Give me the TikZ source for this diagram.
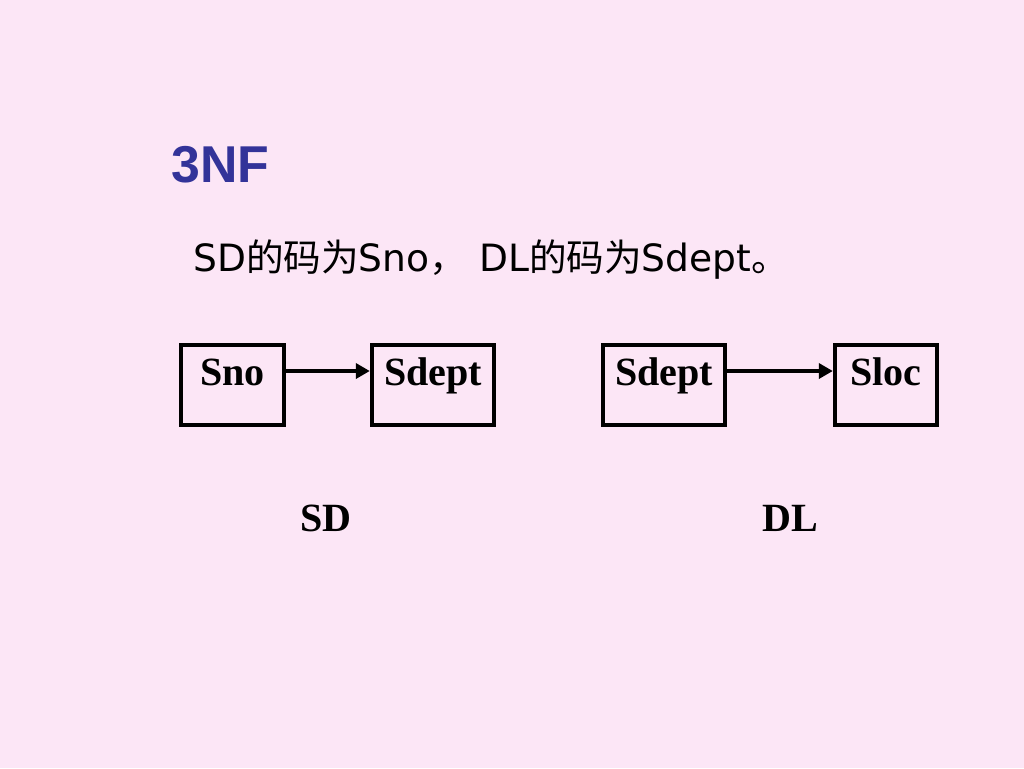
\documentclass[tikz,border=0pt]{standalone}
\usepackage{fontspec}
\setmainfont{Liberation Serif}
\newfontfamily\titlefont{Liberation Sans}
\newfontfamily\linefont{DejaVu Sans}
\newfontfamily\cjk{Noto Sans CJK SC}
\usepackage{tikz}
\usetikzlibrary{
  arrows.meta,
  positioning
}
\definecolor{slidebg}{RGB}{252,230,246}
\definecolor{titleblue}{RGB}{51,51,153}
\tikzset{
  >={Triangle[length=0.28cm,width=0.3cm]},
  attr/.style = {draw, line width=2.5pt, inner sep=0pt,
                 text height=0.8cm, text depth=0.8cm,
                 font=\bfseries\fontsize{22.8pt}{27pt}\selectfont},
  dep/.style = {->, line width=2pt},
  relname/.style = {anchor=base, font=\bfseries\fontsize{22.8pt}{27pt}\selectfont},
}
\begin{document}
\begin{tikzpicture}[x=0.02cm, y=-0.02cm]
\fill[slidebg] (0,0) rectangle (1024,768);
\useasboundingbox (0,0) rectangle (1024,768);
\node (title) [anchor=base west, inner sep=0pt, text=titleblue,
      font=\titlefont\bfseries\fontsize{29.5pt}{34pt}\selectfont] at (171,182) {3NF};
\node (keys) [anchor=base west, inner sep=0pt,
      font=\linefont\fontsize{21.4pt}{26pt}\selectfont] at (193,271)
      {SD{\cjk 的码为}Sno{\cjk ，} DL{\cjk 的码为}Sdept{\cjk 。}};
% SD
\node (sno)    [attr, minimum width=2.06cm] at (232.5,385) {Sno};
\node (sdept)  [attr, minimum width=2.44cm] at (433,385) {Sdept};
% DL
\node (sdept2) [attr, minimum width=2.44cm] at (664,385) {Sdept};
\node (sloc)   [attr, minimum width=2.04cm] at (886,385) {Sloc};
\draw[dep] ([yshift=0.28cm]sno.east) -- ([yshift=0.28cm]sdept.west);
\draw[dep] ([yshift=0.28cm]sdept2.east) -- ([yshift=0.28cm]sloc.west);
\node (sd) [relname] at (326,531) {SD};
\node (dl) [relname] at (790,531) {DL};
\end{tikzpicture}
\end{document}
